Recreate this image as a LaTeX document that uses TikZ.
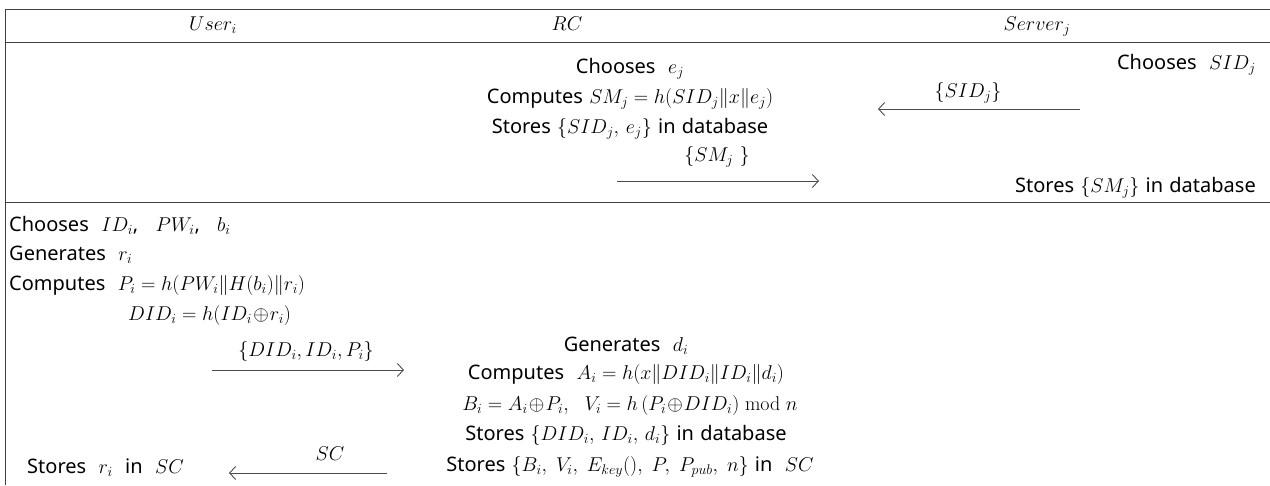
\RequirePackage{fix-cm}
\documentclass[tikz,border=0pt]{standalone}
\usepackage[no-math]{fontspec}
\setmainfont{Noto Sans}[WordSpace=1.2]
\usetikzlibrary{arrows.meta}
% tight exclusive-or, as set in the protocol formulas
\newcommand{\xorop}{\!\oplus\!}
\tikzset{
  rule/.style={line width=0.9pt, draw=black!75},
  msg/.style={line width=0.9pt, draw=black!70,
    -{Straight Barb[length=6pt,width=13pt,line width=0.9pt]}},
  txt/.style={inner sep=0pt, anchor=mid, font=\fontsize{20}{24}\selectfont},
  lft/.style={txt, anchor=mid west},
  rgt/.style={txt, anchor=mid east},
  head/.style={txt},
}
\begin{document}
\begin{tikzpicture}[x=1pt, y=-1pt]
  \useasboundingbox (0,0) rectangle (1270,485);
  % table frame
  \coordinate (tl) at (5,9);
  \coordinate (tr) at (1270,9);
  \coordinate (hl) at (5,42);
  \coordinate (hr) at (1270,42);
  \coordinate (ml) at (5,202);
  \coordinate (mr) at (1270,202);
  \coordinate (bl) at (5,485);
  \draw[rule] (tl) -- (tr);
  \draw[rule] (hl) -- (hr);
  \draw[rule] (ml) -- (mr);
  \draw[rule] (tl) -- (bl);

  % header
  \node[head] (hu) at (213,28) {$User_i$};
  \node[head] (hrc) at (567,28) {$RC$};
  \node[head] (hs) at (1037,28) {$Server_j$};

  % server registration
  \node[rgt] (s1) at (1256,67) {Chooses \ $SID_j$};
  \node[txt] (r1) at (630,71) {Chooses \ $e_j$};
  \node[txt] (r2) at (630,101) {Computes $SM_j = h(SID_j\| x \| e_j)$};
  \node[txt] (r3) at (630,131) {Stores $\{SID_j,\, e_j\}$ in database};
  \coordinate (a1s) at (1080,109);
  \coordinate (a1e) at (878,109);
  \draw[msg] (a1s) -- (a1e);
  \node[txt] (l1) at (968,95) {$\{SID_j\}$};
  \coordinate (a2s) at (617,181);
  \coordinate (a2e) at (819,181);
  \draw[msg] (a2s) -- (a2e);
  \node[txt] (l2) at (717,159) {$\{SM_j\ \}$};
  \node[rgt] (s2) at (1256,190) {Stores $\{SM_j\}$ in database};

  % user registration
  \node[lft] (u1) at (9,229) {Chooses \ $ID_i$,\hspace{11pt} $PW_i$,\hspace{11pt} $b_i$};
  \node[lft] (u2) at (9,258) {Generates \ $r_i$};
  \node[lft] (u3) at (9,288) {Computes \ $P_i = h(PW_i\| H(b_i)\| r_i)$};
  \node[lft] (u4) at (128,318) {$DID_i = h(ID_i \xorop r_i)$};
  \coordinate (a3s) at (212,370);
  \coordinate (a3e) at (404,370);
  \draw[msg] (a3s) -- (a3e);
  \node[txt] (l3) at (306,354) {$\{DID_i, ID_i, P_i\}$};

  \node[txt] (c1) at (626,349) {Generates \ $d_i$};
  \node[txt] (c2) at (626,377) {Computes \ $A_i = h(x\| DID_i \| ID_i \| d_i)$};
  \node[txt] (c3) at (630,408) {$B_i = A_i \xorop P_i,\ \ V_i = h\,(P_i \xorop DID_i) \bmod n$};
  \node[txt] (c4) at (626,438) {Stores $\{DID_i,\, ID_i,\, d_i\}$ in database};
  \node[txt] (c5) at (630,469) {Stores $\{B_i,\; V_i,\; E_{key}(),\; P,\; P_{pub},\; n\}$ in \ $SC$};

  \coordinate (a4s) at (387,473);
  \coordinate (a4e) at (229,473);
  \draw[msg] (a4s) -- (a4e);
  \node[txt] (l4) at (330,458) {$SC$};
  \node[lft] (u5) at (27,471) {Stores \ $r_i$ \ in \ $SC$};
\end{tikzpicture}
\end{document}
